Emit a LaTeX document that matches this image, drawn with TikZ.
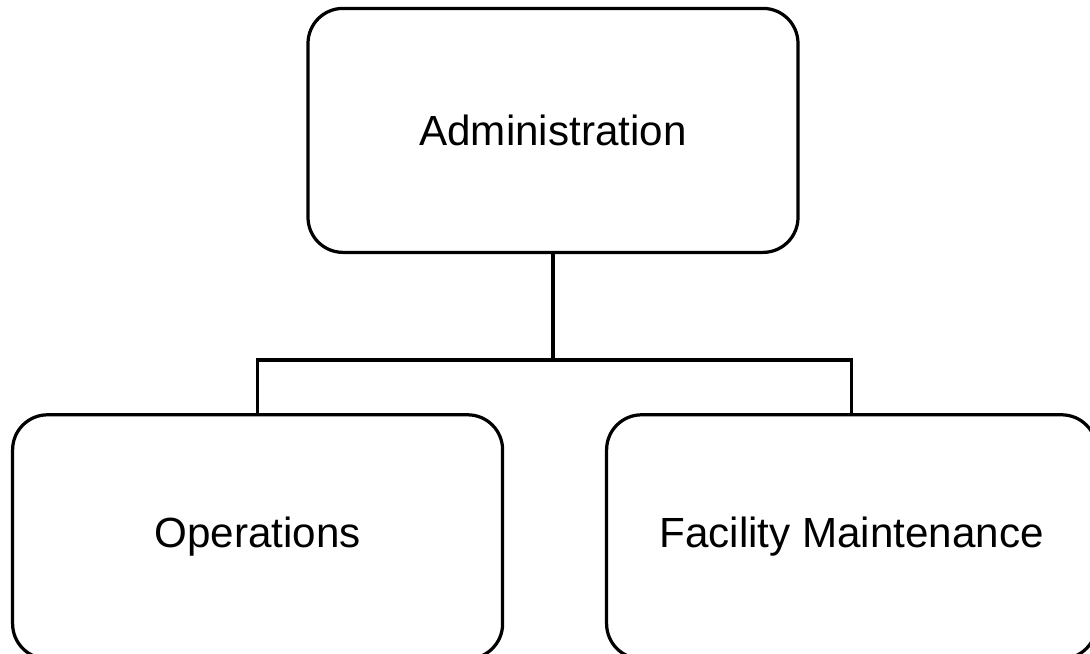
\documentclass[tikz,border=0pt]{standalone}
\usepackage{fontspec}
\setmainfont{Liberation Sans}
\tikzset{
  unit/.style={draw,rounded corners=.875cm,minimum width=12.25cm,minimum height=6.1cm,
    inner sep=0pt,outer sep=0pt,font=\fontsize{30}{36}\selectfont},
}
\begin{document}
\begin{tikzpicture}[x=1cm,y=1cm,line width=2.3pt]
  \clip (0,0) rectangle (27.25,-16.35);
  \node[unit] (admin) at (13.825,-3.26) {Administration};
  \node[unit] (ops) at (6.44,-13.42) {Operations};
  \node[unit] (fac) at (21.29,-13.42) {Facility Maintenance};
  \coordinate (bus) at (13.825,-9);
  \draw (admin.south)--(bus);
  \draw (ops.north) |- (bus) -| (fac.north);
\end{tikzpicture}
\end{document}
